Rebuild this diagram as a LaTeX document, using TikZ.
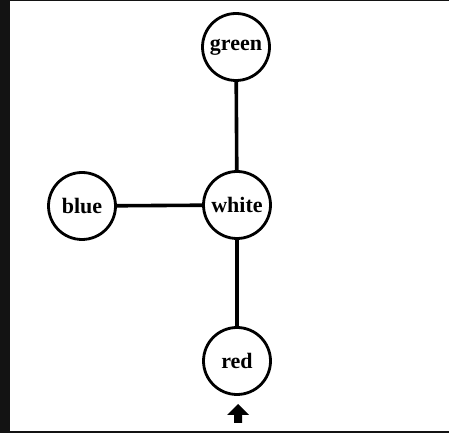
\documentclass[tikz,border=0pt]{standalone}
\usepackage{fontspec}
\setmainfont{Liberation Serif}
\begin{document}
\begin{tikzpicture}[x=1pt,y=1pt,
  vtx/.style={circle,draw,line width=2.8pt,minimum size=67pt,inner sep=0pt,font=\fontsize{22}{24}\selectfont\bfseries},
  edge/.style={line width=3.6pt}]
\useasboundingbox (0,0) rectangle (449,433);
\fill[black!85!gray] (0,0) rectangle (10,433);
\fill[black!85!gray] (0,432) rectangle (449,433);
\fill[black!85!gray] (0,0) rectangle (449,2);
\node[vtx] (green) at (236,386) {green};
\node[vtx] (white) at (237,228) {white};
\node[vtx] (blue) at (82,227) {blue};
\node[vtx] (red) at (237,72) {red};
\draw[edge] (green) -- (white);
\draw[edge] (white) -- (red);
\draw[edge] (blue) -- (white);
\coordinate (arr) at (238,10);
\fill (arr) ++(-4,0) -- ++(0,8) -- ++(-7,0) -- ++(11,11) -- ++(11,-11) -- ++(-7,0) -- ++(0,-8) -- cycle;
\end{tikzpicture}
\end{document}
